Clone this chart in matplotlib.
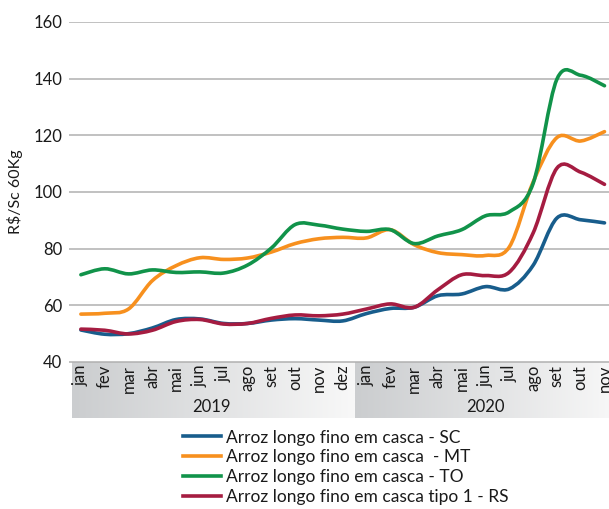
import numpy as np
import matplotlib
matplotlib.use('Agg')
import matplotlib.pyplot as plt
from matplotlib.path import Path
from matplotlib.patches import PathPatch
from matplotlib.lines import Line2D
from matplotlib.colors import LinearSegmentedColormap

plt.rcParams['font.family'] = ['Lato', 'DejaVu Sans']

months = ['jan', 'fev', 'mar', 'abr', 'mai', 'jun', 'jul', 'ago', 'set', 'out', 'nov', 'dez',
          'jan', 'fev', 'mar', 'abr', 'mai', 'jun', 'jul', 'ago', 'set', 'out', 'nov']
years = ['2019', '2020']
year_sizes = [12, 11]

sc = [51.3, 49.8, 50.0, 52.0, 55.0, 55.2, 53.6, 53.6, 54.8, 55.3, 54.8, 54.5,
      57.1, 58.9, 59.3, 63.4, 64.0, 66.6, 65.8, 74.1, 90.8, 90.2, 89.1]
mt = [56.9, 57.2, 58.7, 68.7, 74.0, 76.8, 76.2, 76.7, 78.8, 81.8, 83.5, 84.0,
      83.8, 86.7, 81.4, 78.6, 77.9, 77.6, 80.6, 103.5, 119.2, 118.0, 121.3]
to = [70.8, 72.9, 71.1, 72.5, 71.6, 71.8, 71.4, 74.2, 80.2, 88.5, 88.3, 86.9,
      86.1, 86.7, 81.8, 84.5, 86.7, 91.6, 93.0, 103.0, 139.8, 141.2, 137.5]
rs = [51.6, 51.2, 49.9, 51.2, 54.3, 55.0, 53.4, 53.6, 55.4, 56.6, 56.3, 56.9,
      58.7, 60.5, 59.3, 65.5, 70.8, 70.5, 71.7, 85.5, 108.4, 107.0, 102.7]

series = [
    ('Arroz longo fino em casca - SC', sc, '#185d8c'),
    ('Arroz longo fino em casca  - MT', mt, '#f7901e'),
    ('Arroz longo fino em casca - TO', to, '#11934a'),
    ('Arroz longo fino em casca tipo 1 - RS', rs, '#a51c41'),
]


def smooth_path(x, y):
    x = np.asarray(x, float)
    y = np.asarray(y, float)
    n = len(x)
    verts = [(x[0], y[0])]
    codes = [Path.MOVETO]
    for i in range(n - 1):
        p0 = i - 1 if i > 0 else i
        p3 = i + 2 if i + 2 < n else i + 1
        c1 = (x[i] + (x[i + 1] - x[p0]) / 6, y[i] + (y[i + 1] - y[p0]) / 6)
        c2 = (x[i + 1] - (x[p3] - x[i]) / 6, y[i + 1] - (y[p3] - y[i]) / 6)
        verts += [c1, c2, (x[i + 1], y[i + 1])]
        codes += [Path.CURVE4] * 3
    return Path(verts, codes)


W, H = 609, 509
fig = plt.figure(figsize=(W / 100, H / 100), dpi=100)

left = 69 / W
width = (W - 69) / W
cat_w = 23.8
xmax = -0.5 + (W - 69) / cat_w
txt = '#1a1a1a'

ax = fig.add_axes([left, 1 - 362 / H, width, 340 / H])
ax.set_xlim(-0.5, xmax)
ax.set_ylim(40, 160)
ax.set_yticks(np.arange(40, 161, 20))
ax.set_xticks([])
for s in ax.spines.values():
    s.set_visible(False)
ax.grid(axis='y', color='#b0b0b0', linewidth=1.1)
ax.set_axisbelow(True)
ax.tick_params(axis='y', length=0, pad=5, labelsize=12, labelcolor=txt)
ax.set_ylabel('R$/Sc 60Kg', fontsize=11.5, color=txt, labelpad=7)

xs = np.arange(len(months))
handles = []
for label, vals, color in series:
    patch = PathPatch(smooth_path(xs, vals), fill=False, edgecolor=color,
                      linewidth=2.6, capstyle='round', joinstyle='round')
    ax.add_patch(patch)
    handles.append(Line2D([], [], color=color, linewidth=2.6, label=label))

# category band
bx = fig.add_axes([left, 1 - 418 / H, width, 56 / H])
bx.set_xlim(-0.5, xmax)
bx.set_ylim(0, 1)
bx.axis('off')
cmap = LinearSegmentedColormap.from_list('band', ['#cbcdcf', '#f8f8f8'])
grad = np.linspace(0, 1, 256).reshape(1, -1)
start = -0.5
for yr, n in zip(years, year_sizes):
    x0 = start + (0.12 if start < 0 else 0)
    x1 = start + n
    bx.imshow(grad, cmap=cmap, extent=(x0, x1, 0, 1), aspect='auto', zorder=0)
    bx.text((start + x1) / 2, 0.19, yr, ha='center', va='center', fontsize=12,
            color=txt)
    start = x1
for i, m in enumerate(months):
    bx.text(i, 0.95, m, rotation=90, ha='center', va='top', fontsize=12,
            color=txt, clip_on=False)
bx.set_xlim(-0.5, xmax)
bx.set_ylim(0, 1)
bx.axhline(1, color='#b0b0b0', linewidth=1.1)

fig.legend(handles=handles, loc='upper left', bbox_to_anchor=(183 / W, 1 - 429.5 / H),
           frameon=False, fontsize=12.5, handlelength=2.2, handletextpad=0.3,
           labelspacing=0.23, borderaxespad=0, borderpad=0, labelcolor=txt)

fig.savefig('out.png', dpi=100)
